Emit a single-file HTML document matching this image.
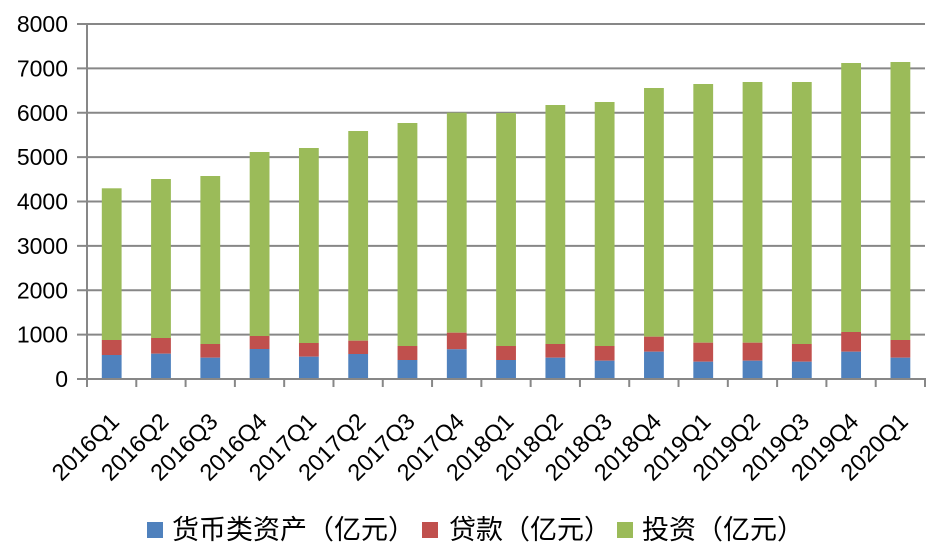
<!DOCTYPE html>
<html>
<head>
<meta charset="utf-8">
<style>
html,body{margin:0;padding:0;background:#fff;}
svg{display:block;}
text{font-family:"Liberation Sans","Noto Sans CJK SC",sans-serif;fill:#000;}
.cjk{font-family:"Liberation Sans","Noto Sans CJK SC",sans-serif;}
</style>
</head>
<body>
<svg width="942" height="554" viewBox="0 0 942 554" xmlns="http://www.w3.org/2000/svg">
<rect width="942" height="554" fill="#fff"/>
<g stroke="#878787" stroke-width="2">
<line x1="77" y1="24" x2="925" y2="24"/>
<line x1="77" y1="68.4" x2="925" y2="68.4"/>
<line x1="77" y1="112.75" x2="925" y2="112.75"/>
<line x1="77" y1="157.1" x2="925" y2="157.1"/>
<line x1="77" y1="201.5" x2="925" y2="201.5"/>
<line x1="77" y1="245.9" x2="925" y2="245.9"/>
<line x1="77" y1="290.25" x2="925" y2="290.25"/>
<line x1="77" y1="334.6" x2="925" y2="334.6"/>
</g>
<g id="bars"></g>
<g stroke="#878787" stroke-width="2">
<line x1="87" y1="24" x2="87" y2="380"/>
<line x1="77" y1="379" x2="926" y2="379"/>
</g>
<g id="ticks" stroke="#878787" stroke-width="2"></g>
<g font-size="23" text-anchor="end">
<text x="68" y="32">8000</text>
<text x="68" y="76.4">7000</text>
<text x="68" y="120.75">6000</text>
<text x="68" y="165.1">5000</text>
<text x="68" y="209.5">4000</text>
<text x="68" y="253.9">3000</text>
<text x="68" y="298.25">2000</text>
<text x="68" y="342.6">1000</text>
<text x="68" y="387">0</text>
</g>
<g id="xl" font-size="23.5" text-anchor="end"></g>
<g>
<rect x="147" y="522" width="16" height="16" fill="#4F81BD"/>
<text class="cjk" x="172" y="539" font-size="27">货币类资产（亿元）</text>
<rect x="422" y="522" width="16" height="16" fill="#C0504D"/>
<text class="cjk" x="449" y="539" font-size="27">贷款（亿元）</text>
<rect x="617" y="522" width="16" height="16" fill="#9BBB59"/>
<text class="cjk" x="642" y="539" font-size="27">投资（亿元）</text>
</g>
</svg>
<script>
(function(){
var ns="http://www.w3.org/2000/svg";
var d=[[188.3,340,355],[179,338,353.7],[176,344,357.7],[152,336,349],[148,343,356.7],[131,340.7,354],[123,346,360],[112.7,332.7,349.3],[113,346,360],[105,344,357.7],[102,346,360.7],[88,336.7,351.7],[84,342.7,361.7],[82,342.7,360.7],[82,344,361.7],[63,332,351.7],[62,340,357.7]];
var labels=["2016Q1","2016Q2","2016Q3","2016Q4","2017Q1","2017Q2","2017Q3","2017Q4","2018Q1","2018Q2","2018Q3","2018Q4","2019Q1","2019Q2","2019Q3","2019Q4","2020Q1"];
var w=838/17, g=document.getElementById("bars"), t=document.getElementById("ticks"), xl=document.getElementById("xl");
function r(x,y,h,c){var e=document.createElementNS(ns,"rect");e.setAttribute("x",x);e.setAttribute("y",y);e.setAttribute("width",19.8);e.setAttribute("height",h);e.setAttribute("fill",c);g.appendChild(e);}
for(var i=0;i<17;i++){
 var x=87+w*i+14.8, a=d[i];
 r(x,a[0],a[1]-a[0],"#9BBB59");
 r(x,a[1],a[2]-a[1],"#C0504D");
 r(x,a[2],378-a[2],"#4F81BD");
 var c=87+w*(i+0.5);
 var tx=document.createElementNS(ns,"text");
 tx.setAttribute("x",0);tx.setAttribute("y",0);
 tx.setAttribute("transform","translate("+(c+9)+",423) rotate(-45)");
 tx.textContent=labels[i];xl.appendChild(tx);
}
for(var k=0;k<=17;k++){var xx=87+w*k;var l=document.createElementNS(ns,"line");l.setAttribute("x1",xx);l.setAttribute("x2",xx);l.setAttribute("y1",379);l.setAttribute("y2",387);t.appendChild(l);}
})();
</script>
</body>
</html>
